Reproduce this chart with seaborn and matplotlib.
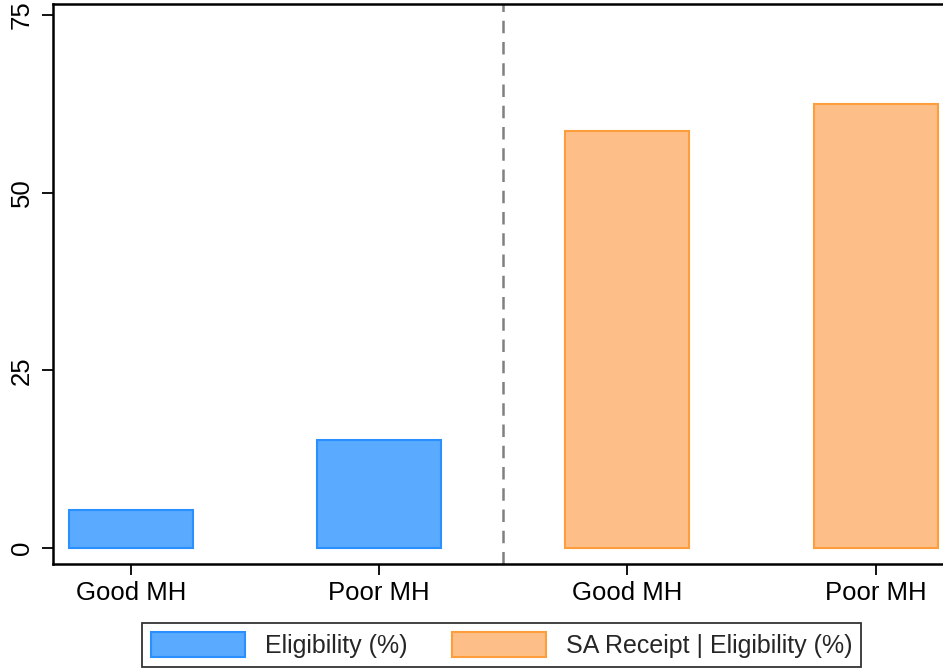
import pandas as pd
import matplotlib.pyplot as plt
import seaborn as sns
from matplotlib.patches import Patch

# --- dados ---
condicoes = ["Good MH", "Poor MH"]
series = ["Eligibility (%)", "SA Receipt | Eligibility (%)"]
elegibilidade = [5.4, 15.2]
recebimento = [58.7, 62.5]

cores_fill = ["#5aabff", "#fdbf87"]
cores_borda = ["#2a90ff", "#fd9d3c"]

# monta tabela longa: uma linha por barra
linhas = []
for serie, valores in zip(series, [elegibilidade, recebimento]):
    for cond, v in zip(condicoes, valores):
        linhas.append({"slot": serie + " / " + cond, "Serie": serie, "Cond": cond, "Valor": v})
df = pd.DataFrame(linhas)

sns.set_theme(style="ticks")
plt.rcParams["font.family"] = ["Liberation Sans", "DejaVu Sans"]

fig = plt.figure(figsize=(9.43, 6.7), dpi=100)
ax = fig.add_axes([0.0562, 0.158, 0.946, 0.836])

sns.barplot(data=df, x="slot", y="Valor", hue="Serie", palette=cores_fill,
            dodge=False, width=0.5, ax=ax, legend=False, saturation=1)

# bordas das barras
for i, serie in enumerate(series):
    for patch in ax.containers[i]:
        patch.set_edgecolor(cores_borda[i])
        patch.set_linewidth(1.5)

ax.axvline(1.5, color="#808080", linestyle=(0, (5, 3.5)), linewidth=1.8)

ax.set_xlim(-0.315, 3.28)
ax.set_ylim(-2.25, 76.5)
ax.set_yticks([0, 25, 50, 75])
ax.set_xticks(range(4))
ax.set_xticklabels(condicoes * 2)
ax.set_xlabel("")
ax.set_ylabel("")
ax.tick_params(axis="both", labelsize=18.5, colors="black", length=8, width=1.3, direction="out")
ax.tick_params(axis="x", pad=4)
ax.tick_params(axis="y", pad=6)
for lbl in ax.get_yticklabels():
    lbl.set_rotation(90)
    lbl.set_va("center")

for lado in ["top", "left", "bottom"]:
    ax.spines[lado].set_color("black")
    ax.spines[lado].set_linewidth(1.8)
ax.spines["right"].set_visible(False)

# legenda manual
handles = [Patch(facecolor=cores_fill[i], edgecolor=cores_borda[i], linewidth=1.5) for i in range(2)]
leg = fig.legend(handles, series, loc="lower center", bbox_to_anchor=(0.532, 0.005), ncol=2,
                 fontsize=18, frameon=True, fancybox=False, edgecolor="black",
                 handlelength=3.75, handleheight=1.2, columnspacing=1.8, handletextpad=0.8,
                 borderpad=0.35, borderaxespad=0)
leg.get_frame().set_linewidth(1.3)

fig.savefig("out.png", dpi=100)
